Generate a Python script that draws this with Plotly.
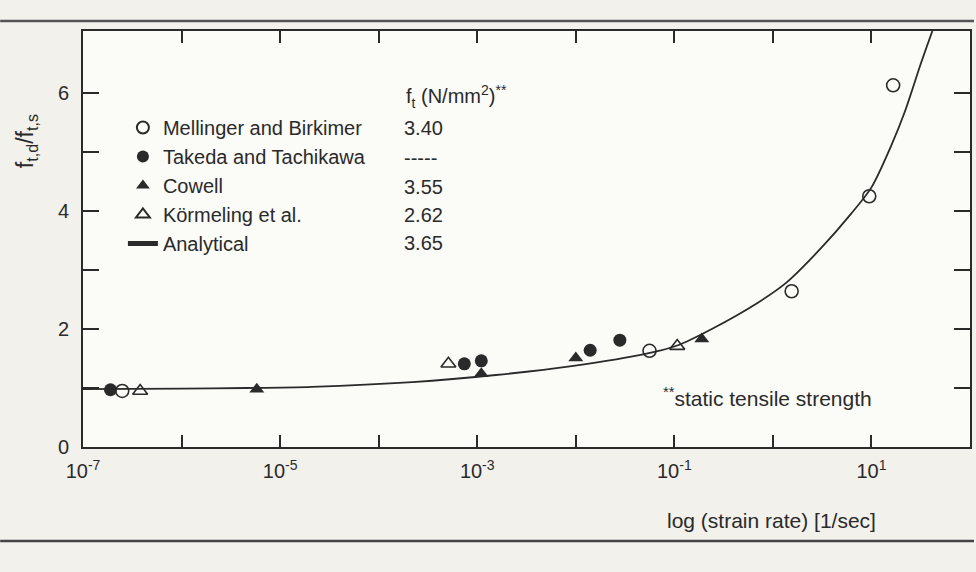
import plotly.graph_objects as go

# ---------------- data ----------------
mell_x = [2.5e-7, 5.6e-2, 1.55, 9.5, 16.6]
mell_y = [0.95, 1.63, 2.64, 4.25, 6.13]

take_x = [1.9e-7, 7.4e-4, 1.1e-3, 1.4e-2, 2.8e-2]
take_y = [0.97, 1.41, 1.46, 1.64, 1.81]

cow_x = [5.8e-6, 1.1e-3, 1.0e-2, 0.19]
cow_y = [0.98, 1.24, 1.51, 1.83]

kor_x = [3.8e-7, 5.1e-4, 0.107]
kor_y = [0.95, 1.41, 1.71]

ana_x = [1e-7, 1e-6, 4.6e-6, 2.1e-5, 2.2e-4, 1.55e-3, 9.1e-3, 5.5e-2, 0.107,
         0.24, 0.71, 1.38, 3.16, 6.2, 10, 15.8, 21.9, 31.6, 41.5]
ana_y = [0.98, 0.99, 1.00, 1.02, 1.10, 1.22, 1.37, 1.59, 1.72,
         2.00, 2.45, 2.79, 3.39, 3.95, 4.40, 5.10, 5.69, 6.49, 7.05]

series_names = ["Mellinger and Birkimer", "Takeda and Tachikawa", "Cowell",
                "Körmeling et al.", "Analytical"]
strength_vals = ["3.40", "-----", "3.55", "2.62", "3.65"]

x_tickvals = [1e-7, 1e-6, 1e-5, 1e-4, 1e-3, 1e-2, 1e-1, 1e0, 1e1]
x_ticktext = ["10<sup>-7</sup>", "", "10<sup>-5</sup>", "", "10<sup>-3</sup>", "",
              "10<sup>-1</sup>", "", "10<sup>1</sup>"]
y_tickvals = [0, 1, 2, 3, 4, 5, 6]
y_ticktext = ["0", "", "2", "", "4", "", "6"]

# ---------------- styling ----------------
INK = "#2a2a2a"
PLOTBG = "#fbfbf8"
PAPERBG = "#f2f1ec"
FONT = "Liberation Sans, Arial, sans-serif"

L, R, T, B = 83, 4, 31, 125
W, H = 976, 572
PW, PH = W - L - R, H - T - B


def px(xp):
    return (xp - L) / PW


def py(yp):
    return (H - B - yp) / PH


fig = go.Figure()

fig.add_trace(go.Scatter(x=mell_x, y=mell_y, mode="markers", name=series_names[0],
                         marker=dict(symbol="circle", size=13, color=PLOTBG,
                                     line=dict(color=INK, width=1.6))))
fig.add_trace(go.Scatter(x=take_x, y=take_y, mode="markers", name=series_names[1],
                         marker=dict(symbol="circle", size=13, color=INK,
                                     line=dict(color=INK, width=0))))
fig.add_trace(go.Scatter(x=cow_x, y=cow_y, mode="markers", name=series_names[2],
                         marker=dict(symbol="triangle-up", size=13, color=INK,
                                     line=dict(color=INK, width=0))))
fig.add_trace(go.Scatter(x=kor_x, y=kor_y, mode="markers", name=series_names[3],
                         marker=dict(symbol="triangle-up", size=13, color=PLOTBG,
                                     line=dict(color=INK, width=1.6))))
fig.add_trace(go.Scatter(x=ana_x, y=ana_y, mode="lines", name=series_names[4],
                         line=dict(color=INK, width=1.8, shape="spline", smoothing=0.8)))

axis_common = dict(showline=True, linecolor=INK, linewidth=2, mirror="ticks",
                   ticks="inside", tickcolor=INK, tickwidth=1.6,
                   showgrid=False, zeroline=False,
                   tickfont=dict(family=FONT, size=20, color=INK))

fig.update_xaxes(type="log", range=[-7, 2], tickvals=x_tickvals, ticktext=x_ticktext,
                 ticklen=12, ticklabelstandoff=5, **axis_common)
fig.update_yaxes(range=[0, 7.05], tickvals=y_tickvals, ticktext=y_ticktext,
                 ticklen=16, ticklabelstandoff=8, **axis_common)

ann = []
row_y = [128, 158, 187, 215, 243]
for v, yy in zip(strength_vals, row_y):
    ann.append(dict(x=px(403), y=py(yy), xref="paper", yref="paper", text=v,
                    showarrow=False, xanchor="left", yanchor="middle",
                    font=dict(family=FONT, size=20, color=INK)))
ann.append(dict(x=px(405), y=py(96), xref="paper", yref="paper",
                text="f<sub>t</sub> (N/mm<sup>2</sup>)<sup>**</sup>",
                showarrow=False, xanchor="left", yanchor="middle",
                font=dict(family=FONT, size=20, color=INK)))
ann.append(dict(x=px(662), y=py(397), xref="paper", yref="paper",
                text="<sup>**</sup>static tensile strength",
                showarrow=False, xanchor="left", yanchor="middle",
                font=dict(family=FONT, size=21, color=INK)))
ann.append(dict(x=px(27), y=py(141), xref="paper", yref="paper",
                text="f<sub>t,d</sub>/f<sub>t,s</sub>", textangle=-90,
                showarrow=False, xanchor="center", yanchor="middle",
                font=dict(family=FONT, size=23, color=INK)))
ann.append(dict(x=px(880), y=py(520), xref="paper", yref="paper",
                text="log (strain rate) [1/sec]",
                showarrow=False, xanchor="right", yanchor="middle",
                font=dict(family=FONT, size=21, color=INK)))

shapes = [
    dict(type="line", xref="paper", yref="paper", x0=px(0), x1=px(976),
         y0=py(21), y1=py(21), line=dict(color="#555555", width=2.5)),
    dict(type="line", xref="paper", yref="paper", x0=px(0), x1=px(976),
         y0=py(541), y1=py(541), line=dict(color="#444444", width=2.5)),
]

fig.update_layout(
    width=W, height=H, autosize=False,
    margin=dict(l=L, r=R, t=T, b=B),
    paper_bgcolor=PAPERBG, plot_bgcolor=PLOTBG,
    font=dict(family=FONT, size=19, color=INK),
    showlegend=True,
    legend=dict(x=px(123), y=py(108), xanchor="left", yanchor="top",
                bgcolor="rgba(0,0,0,0)", borderwidth=0,
                font=dict(family=FONT, size=20, color=INK),
                itemsizing="constant", tracegroupgap=0),
    annotations=ann, shapes=shapes,
)

fig.write_html("out.html")
